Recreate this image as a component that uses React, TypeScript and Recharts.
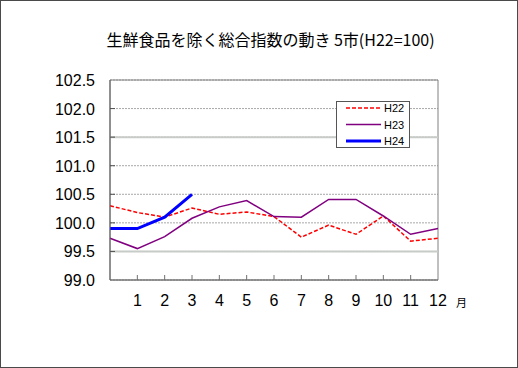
import { LineChart, Line, XAxis, YAxis, CartesianGrid, ReferenceArea, ReferenceLine } from "recharts";

const months = [0, 1, 2, 3, 4, 5, 6, 7, 8, 9, 10, 11, 12];
const h22 = [100.3, 100.18, 100.1, 100.26, 100.15, 100.19, 100.11, 99.75, 99.96, 99.8, 100.12, 99.68, 99.73];
const h23 = [99.73, 99.55, 99.76, 100.08, 100.28, 100.39, 100.11, 100.1, 100.41, 100.41, 100.12, 99.8, 99.9];
const h24 = [99.9, 99.9, 100.1, 100.5];
const xTicks = [1, 2, 3, 4, 5, 6, 7, 8, 9, 10, 11, 12];
const yTicks = [99.0, 99.5, 100.0, 100.5, 101.0, 101.5, 102.0, 102.5];

const series = [
  { key: "H22", color: "#ff0000", width: 1.5, dash: "4 2" },
  { key: "H23", color: "#800080", width: 1.5, dash: undefined },
  { key: "H24", color: "#0000ff", width: 3, dash: undefined },
];

const data = months.map((m, i) => ({
  m,
  H22: h22[i],
  H23: h23[i],
  H24: i < h24.length ? h24[i] : null,
}));

const W = 518;
const H = 368;
const LEFT = 110;
const TOP = 80;
const RIGHT = 80;
const BOTTOM = 88;
const plotBottom = H - BOTTOM;

const numFont = "'Liberation Sans', Arial, sans-serif";

function XTick({ x, y, payload }: any) {
  return (
    <g>
      {payload.value < 12 && (
        <line x1={x} x2={x} y1={plotBottom} y2={plotBottom - 5} stroke="#707070" />
      )}
      <text x={x} y={y} dy={26} textAnchor="middle" fontSize={16} fontFamily={numFont} fill="#000">
        {payload.value}
      </text>
    </g>
  );
}

function YTick({ x, y, payload }: any) {
  return (
    <g>
      {payload.value > 99 && payload.value < 102.5 && (
        <line x1={LEFT} x2={LEFT + 5} y1={y} y2={y} stroke="#505050" />
      )}
      <text x={x} y={y} dy={6} textAnchor="end" fontSize={16} fontFamily={numFont} fill="#000">
        {payload.value.toFixed(1)}
      </text>
    </g>
  );
}

function LegendBox() {
  return (
    <svg width={75} height={48} style={{ position: "absolute", left: 335, top: 100, display: "block" }}>
      <rect x={0.5} y={0.5} width={73} height={46} fill="#fff" stroke="#555" />
      {series.map((s, i) => (
        <g key={s.key}>
          <line
            x1={10}
            x2={45}
            y1={7 + i * 16.5}
            y2={7 + i * 16.5}
            stroke={s.color}
            strokeWidth={s.width}
            strokeDasharray={s.dash}
          />
          <text x={48} y={11 + i * 16.5} fontSize={11} fontFamily={numFont} fill="#000">
            {s.key}
          </text>
        </g>
      ))}
    </svg>
  );
}

export default function App() {
  return (
    <div
      style={{
        position: "fixed",
        left: 0,
        top: 0,
        width: W,
        height: H,
        background: "#fff",
        border: "1px solid #4a4a4a",
        boxSizing: "border-box",
      }}
    >
      <div
        style={{
          position: "absolute",
          left: 0,
          width: 539,
          top: 26,
          textAlign: "center",
          fontFamily: "'Noto Sans CJK JP', sans-serif",
          fontSize: 16,
          color: "#000",
          whiteSpace: "nowrap",
        }}
      >
        生鮮食品を除く総合指数の動き 5市(H22=100)
      </div>
      <div style={{ position: "absolute", left: -1, top: -1 }}>
        <LineChart width={W} height={H} data={data} margin={{ top: TOP, right: RIGHT, bottom: BOTTOM - 30, left: 0 }}>
          <CartesianGrid vertical={false} stroke="#a8a8a8" strokeDasharray="2 1" />
          <ReferenceLine y={101.5} stroke="#c8ccc8" strokeWidth={2} />
          <ReferenceLine y={99.5} stroke="#c8ccc8" strokeWidth={2} />
          <ReferenceArea x1={0} x2={12} y1={99} y2={102.5} fill="none" stroke="#808080" strokeOpacity={1} />
          <XAxis
            dataKey="m"
            type="number"
            domain={[0, 12]}
            ticks={xTicks}
            height={30}
            tickSize={0}
            tickMargin={0}
            axisLine={{ stroke: "#707070" }}
            tickLine={false}
            tick={<XTick />}
            interval={0}
          />
          <YAxis
            domain={[99, 102.5]}
            ticks={yTicks}
            width={LEFT}
            tickSize={0}
            tickMargin={15}
            axisLine={{ stroke: "#606060" }}
            tickLine={false}
            tick={<YTick />}
            interval={0}
          />
          {series.map((s) => (
            <Line
              key={s.key}
              dataKey={s.key}
              stroke={s.color}
              strokeWidth={s.width}
              strokeDasharray={s.dash}
              dot={false}
              isAnimationActive={false}
            />
          ))}
        </LineChart>
      </div>
      <LegendBox />
      <div
        style={{
          position: "absolute",
          left: 455,
          top: 293,
          fontFamily: "'Noto Sans CJK JP', sans-serif",
          fontSize: 11,
          color: "#000",
        }}
      >
        月
      </div>
    </div>
  );
}
